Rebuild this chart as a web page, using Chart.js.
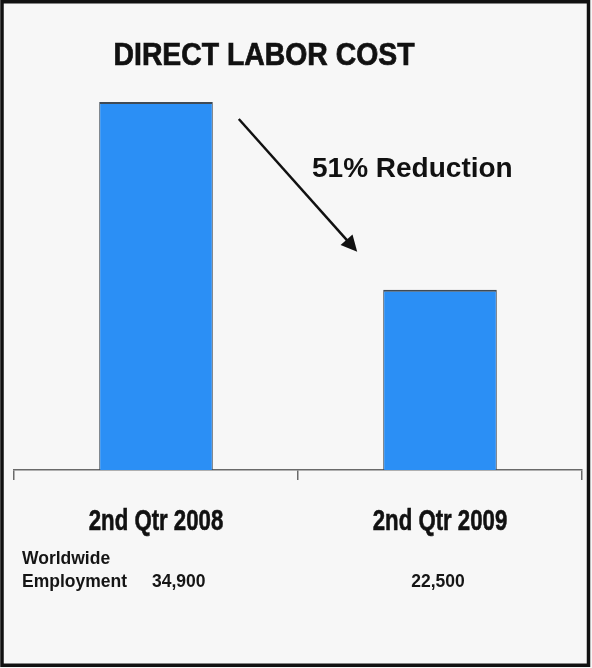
<!DOCTYPE html>
<html>
<head>
<meta charset="utf-8">
<script src="https://cdn.jsdelivr.net/npm/chart.js@4/dist/chart.umd.min.js"></script>
<style>
  html, body { margin: 0; padding: 0; background: #ffffff; }
  #wrap { position: relative; width: 592px; height: 668px; }
  canvas { display: block; }
</style>
</head>
<body>
<div id="wrap"><canvas id="c" width="592" height="668"></canvas></div>
<script>
// ---- data ----
const categories = ["2nd Qtr 2008", "2nd Qtr 2009"];
const laborCost = [100, 49];           // relative direct labor cost
const employment = ["34,900", "22,500"];
const employmentLabel = ["Worldwide", "Employment"];
const chartTitle = "DIRECT LABOR COST";
const reductionText = "51% Reduction";

const SANS = "'Liberation Sans', Arial, Helvetica, sans-serif";

const decorPlugin = {
  id: 'decor',
  beforeDraw(chart) {
    const ctx = chart.ctx;
    ctx.save();
    ctx.fillStyle = '#f7f7f7';
    ctx.fillRect(0, 0, chart.width, chart.height);
    ctx.restore();
  },
  afterDraw(chart) {
    const ctx = chart.ctx;
    const meta = chart.getDatasetMeta(0);
    const b0 = meta.data[0], b1 = meta.data[1];
    const xs = chart.scales.x;

    // title (slightly condensed)
    ctx.save();
    ctx.fillStyle = '#111';
    ctx.strokeStyle = '#111';
    ctx.lineWidth = 0.7;
    ctx.textAlign = 'center';
    ctx.textBaseline = 'alphabetic';
    ctx.translate(264, 65);
    ctx.scale(0.915, 1);
    ctx.font = "bold 31px " + SANS;
    ctx.fillText(chartTitle, 0, 0);
    ctx.strokeText(chartTitle, 0, 0);
    ctx.restore();

    // category labels (condensed bold), positioned by the x scale
    categories.forEach((lab, i) => {
      ctx.save();
      ctx.fillStyle = '#111';
      ctx.strokeStyle = '#111';
      ctx.lineWidth = 0.6;
      ctx.textAlign = 'center';
      ctx.textBaseline = 'alphabetic';
      ctx.translate(xs.getPixelForValue(i), xs.bottom + 50);
      ctx.scale(0.74, 1);
      ctx.font = "bold 30px " + SANS;
      ctx.fillText(lab, 0, 0);
      ctx.strokeText(lab, 0, 0);
      ctx.restore();
    });

    // arrow from first bar to second bar
    const x0 = b0.x + b0.width / 2 + 26, y0 = b0.y + 17;
    const x1 = b1.x - b1.width / 2 - 26, y1 = b1.y - 38;
    const ang = Math.atan2(y1 - y0, x1 - x0);
    const headLen = 16, headW = 8;
    ctx.save();
    ctx.strokeStyle = '#111';
    ctx.fillStyle = '#111';
    ctx.lineWidth = 2.5;
    ctx.beginPath();
    ctx.moveTo(x0, y0);
    ctx.lineTo(x1 - Math.cos(ang) * headLen * 0.8, y1 - Math.sin(ang) * headLen * 0.8);
    ctx.stroke();
    ctx.beginPath();
    ctx.moveTo(x1, y1);
    ctx.lineTo(x1 - Math.cos(ang) * headLen + Math.sin(ang) * headW, y1 - Math.sin(ang) * headLen - Math.cos(ang) * headW);
    ctx.lineTo(x1 - Math.cos(ang) * headLen - Math.sin(ang) * headW, y1 - Math.sin(ang) * headLen + Math.cos(ang) * headW);
    ctx.closePath();
    ctx.fill();

    // reduction label
    ctx.font = "bold 28px " + SANS;
    ctx.textAlign = 'left';
    ctx.textBaseline = 'alphabetic';
    ctx.fillText(reductionText, 312, 177);

    // employment rows
    ctx.font = "bold 17.5px " + SANS;
    ctx.fillStyle = '#151515';
    ctx.fillText(employmentLabel[0], 22, 564);
    ctx.fillText(employmentLabel[1], 22, 587);
    ctx.fillText(employment[0], 152, 587);
    ctx.textAlign = 'center';
    ctx.fillText(employment[1], b1.x - 2, 587);

    // frame
    ctx.strokeStyle = '#111';
    ctx.lineWidth = 3.5;
    ctx.strokeRect(2, 1.75, 586.5, 663.5);
    ctx.restore();
  }
};

new Chart(document.getElementById('c'), {
  type: 'bar',
  data: {
    labels: categories,
    datasets: [{
      data: laborCost,
      backgroundColor: '#2b8ff5',
      borderColor: '#3f4a55',
      borderWidth: { top: 2, left: 1, right: 1, bottom: 0 },
      borderSkipped: false,
      categoryPercentage: 1.0,
      barPercentage: 0.4
    }]
  },
  options: {
    responsive: false,
    animation: false,
    devicePixelRatio: 1,
    layout: { padding: { left: 14, right: 10, top: 102, bottom: 188 } },
    plugins: { legend: { display: false }, tooltip: { enabled: false }, title: { display: false } },
    scales: {
      x: {
        offset: true,
        grid: { display: true, drawOnChartArea: false, drawTicks: true, tickLength: 10, color: '#6a6a6a', lineWidth: 1.5, offset: true },
        border: { display: true, color: '#6a6a6a', width: 1.5 },
        ticks: { display: false }
      },
      y: { display: false, min: 0, max: 100 }
    }
  },
  plugins: [decorPlugin]
});
</script>
</body>
</html>
